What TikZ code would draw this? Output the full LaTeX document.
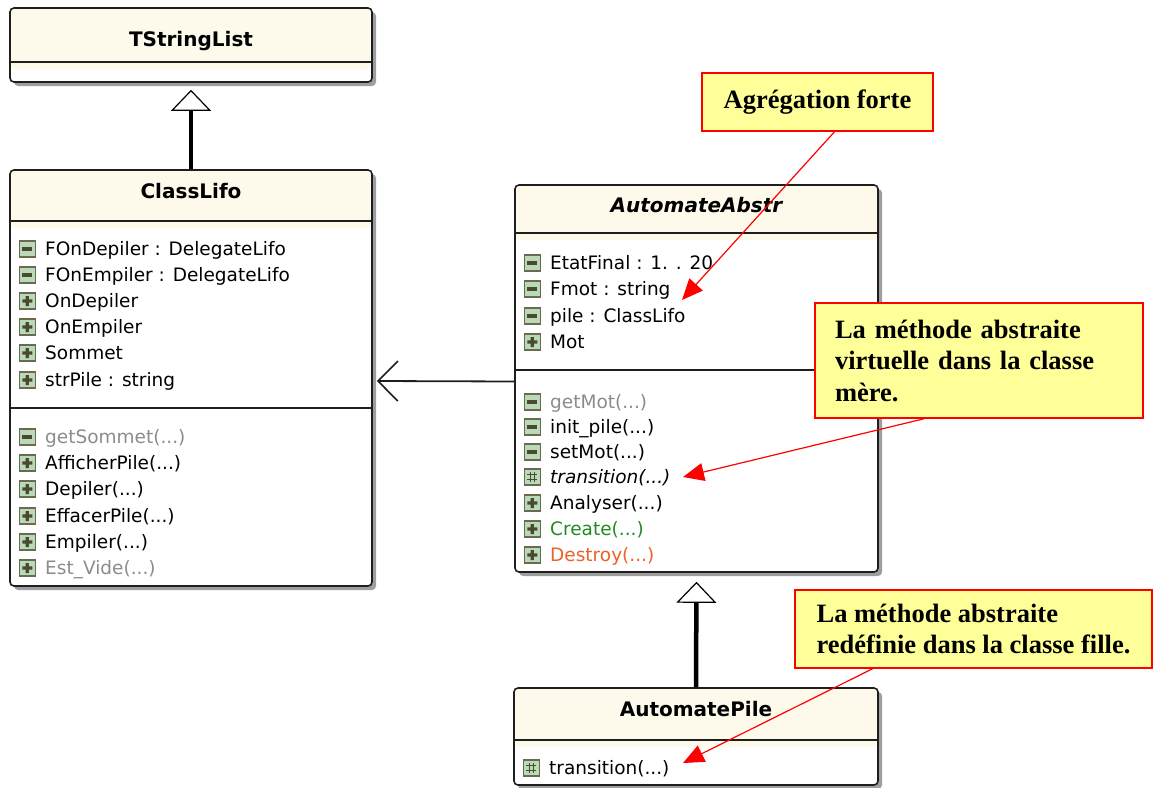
\documentclass[tikz,border=0pt]{standalone}
\usepackage{fontspec}
\setmainfont{Liberation Serif}
\setsansfont{DejaVu Sans}
\usepackage{xcolor}
\usepackage{tikz}
\usetikzlibrary{arrows.meta,positioning,shadows}

\definecolor{titlecream}{HTML}{FDFAEC}
\definecolor{noteyellow}{HTML}{FFFF99}
\definecolor{icongreen}{HTML}{B9D9B9}
\definecolor{iconedge}{HTML}{6A6A50}
\definecolor{icondark}{HTML}{4A4A30}
\definecolor{hiddengray}{HTML}{8C8C8C}
\definecolor{creategreen}{HTML}{228B22}
\definecolor{destroyorange}{HTML}{F0602A}
\definecolor{boxedge}{HTML}{1E1E1E}

\begin{document}
\begin{tikzpicture}[x=1pt, y=-1pt,
  font=\sffamily\fontsize{18.5}{22}\selectfont,
  classbox/.style={rectangle, draw=boxedge, line width=1.6pt, fill=white,
                   rounded corners=4pt,
                   drop shadow={shadow xshift=4pt, shadow yshift=-4pt,
                                fill=black!38, opacity=1},
                   path picture={\fill[titlecream]
                     (path picture bounding box.north west) rectangle
                     ([yshift=-#1]path picture bounding box.north east);}},
  classtitle/.style={font=\sffamily\bfseries\fontsize{20}{24}\selectfont,
                     inner sep=0pt, text height=14.5pt, text depth=0pt},
  sep/.style={draw=boxedge, line width=1.6pt},
  member/.style={anchor=west, inner sep=0pt, text height=13.5pt, text depth=0pt},
  ico/.style={rectangle, draw=iconedge, fill=icongreen, line width=1.5pt,
              minimum size=16pt, inner sep=0pt},
  icominus/.style={ico, path picture={\fill[icondark]
      ([shift={(-5pt,-1.6pt)}]path picture bounding box.center) rectangle
      ([shift={(5pt,1.6pt)}]path picture bounding box.center);}},
  icoplus/.style={ico, path picture={\fill[icondark]
      ([shift={(-5pt,-1.6pt)}]path picture bounding box.center) rectangle
      ([shift={(5pt,1.6pt)}]path picture bounding box.center)
      ([shift={(-1.6pt,-5pt)}]path picture bounding box.center) rectangle
      ([shift={(1.6pt,5pt)}]path picture bounding box.center);}},
  icohash/.style={ico, path picture={\draw[icondark, line width=0.9pt]
      ([shift={(-2.2pt,-5pt)}]path picture bounding box.center) --
      ([shift={(-2.2pt,5pt)}]path picture bounding box.center)
      ([shift={(2.2pt,-5pt)}]path picture bounding box.center) --
      ([shift={(2.2pt,5pt)}]path picture bounding box.center)
      ([shift={(-5pt,-2.2pt)}]path picture bounding box.center) --
      ([shift={(5pt,-2.2pt)}]path picture bounding box.center)
      ([shift={(-5pt,2.2pt)}]path picture bounding box.center) --
      ([shift={(5pt,2.2pt)}]path picture bounding box.center);}},
  mpriv/.style={member, label={[icominus, label distance=9pt]left:{}}},
  mpub/.style ={member, label={[icoplus, label distance=9pt]left:{}}},
  mprot/.style={member, label={[icohash, label distance=9pt]left:{}}},
  inherit/.style={line width=4.5pt, black, shorten >=7pt,
                  -{Triangle[fill=white, length=21pt, width=40pt, line width=1.2pt]}},
  assoc/.style={line width=1.8pt, draw=boxedge,
                -{Straight Barb[length=20pt, width=40pt, line width=1.6pt]}},
  note/.style={rectangle, draw=red, line width=1.5pt, fill=noteyellow,
               font=\rmfamily\bfseries\fontsize{26.5}{31.5}\selectfont,
               align=left},
  pointer/.style={red, line width=1.2pt, -{Triangle[length=21pt, width=18pt]}},
]
\useasboundingbox (0,0) rectangle (1153,787);

% === Classes ===
\node[classbox=61pt, minimum width=362pt, minimum height=74pt] (tsl) at (191,45) {};
\draw[sep] (tsl.west |- 0,62) -- (tsl.east |- 0,62);
\node[classtitle] (tsltitle) at (191,39.5) {TStringList};

\node[classbox=58pt, minimum width=362pt, minimum height=416pt] (lifo) at (191,378) {};
\draw[sep] (lifo.west |- 0,221) -- (lifo.east |- 0,221);
\draw[sep] (lifo.west |- 0,408) -- (lifo.east |- 0,408);
\node[classtitle] (lifotitle) at (191,191.5) {ClassLifo};

\node[classbox=55pt, minimum width=363pt, minimum height=387pt] (abstr) at (696.5,378.5) {};
\draw[sep] (abstr.west |- 0,233) -- (abstr.east |- 0,233);
\draw[sep] (abstr.west |- 0,370) -- (abstr.east |- 0,370);
\node[classtitle, font=\sffamily\bfseries\itshape\fontsize{20}{24}\selectfont]
  (abstrtitle) at (696.5,205) {AutomateAbstr};

\node[classbox=59pt, minimum width=364pt, minimum height=97pt] (pile) at (696,736.5) {};
\draw[sep] (pile.west |- 0,740) -- (pile.east |- 0,740);
\node[classtitle] (piletitle) at (696,709.5) {AutomatePile};

% === ClassLifo members ===
\node[mpriv] (fondepiler) at (45,249) {FOnDepiler : DelegateLifo};
\node[mpriv] (fonempiler) at (45,275) {FOnEmpiler : DelegateLifo};
\node[mpub] (ondepiler) at (45,301) {OnDepiler};
\node[mpub] (onempiler) at (45,327) {OnEmpiler};
\node[mpub] (sommet) at (45,353) {Sommet};
\node[mpub] (strpile) at (45,380) {strPile : string};

\node[mpriv, text=hiddengray] (getsommet) at (45,437) {getSommet(...)};
\node[mpub] (afficherpile) at (45,463) {AfficherPile(...)};
\node[mpub] (depiler) at (45,489) {Depiler(...)};
\node[mpub] (effacerpile) at (45,516) {EffacerPile(...)};
\node[mpub] (empiler) at (45,542) {Empiler(...)};
\node[mpub, text=hiddengray] (estvide) at (45,568) {Est\_Vide(...)};

% === AutomateAbstr members ===
\node[mpriv] (etatfinal) at (550,263) {EtatFinal : 1. . 20};
\node[mpriv] (fmot) at (550,289) {Fmot : string};
\node[mpriv] (pileattr) at (550,316) {pile : ClassLifo};
\node[mpub] (mot) at (550,342) {Mot};

\node[mpriv, text=hiddengray] (getmot) at (550,402) {getMot(...)};
\node[mpriv] (initpile) at (550,427) {init\_pile(...)};
\node[mpriv] (setmot) at (550,452) {setMot(...)};
\node[mprot, font=\sffamily\itshape\fontsize{18.5}{22}\selectfont]
  (abstrtrans) at (550,477) {transition(...)};
\node[mpub] (analyser) at (550,503) {Analyser(...)};
\node[mpub, text=creategreen] (create) at (550,529) {Create(...)};
\node[mpub, text=destroyorange] (destroy) at (550,555) {Destroy(...)};

% === AutomatePile members ===
\node[mprot] (piletrans) at (549,768) {transition(...)};

% === Relations ===
\draw[inherit] (lifo.north) -- (tsl.south);
\draw[inherit, shorten >=9pt] (pile.north) -- (abstr.south);
\draw[assoc] ([yshift=-3pt]abstr.west) -- ([xshift=4pt, yshift=-3pt]lifo.east);

% === Notes ===
\node[note, minimum width=231pt, minimum height=58pt] (agreg) at (817.5,102)
  {Agrégation forte};
\node[note, text width=288pt, inner xsep=20pt, minimum height=115pt] (virt)
  at (979,360.5) {La méthode abstraite\\virtuelle dans la classe\\mère.};
\node[note, minimum width=357pt, minimum height=78pt] (redef)
  at (973.5,629) {La méthode abstraite\\redéfinie dans la classe fille.};

\coordinate (aggtip) at (682,300);
\coordinate (virttip) at (683,477);
\coordinate (redeftip) at (683,763);
\draw[pointer] ([xshift=17pt]agreg.south) -- (aggtip);
\draw[pointer] ([xshift=-55pt]virt.south) -- (virttip);
\draw[pointer] ([xshift=-101pt]redef.south) -- (redeftip);

\end{tikzpicture}
\end{document}
